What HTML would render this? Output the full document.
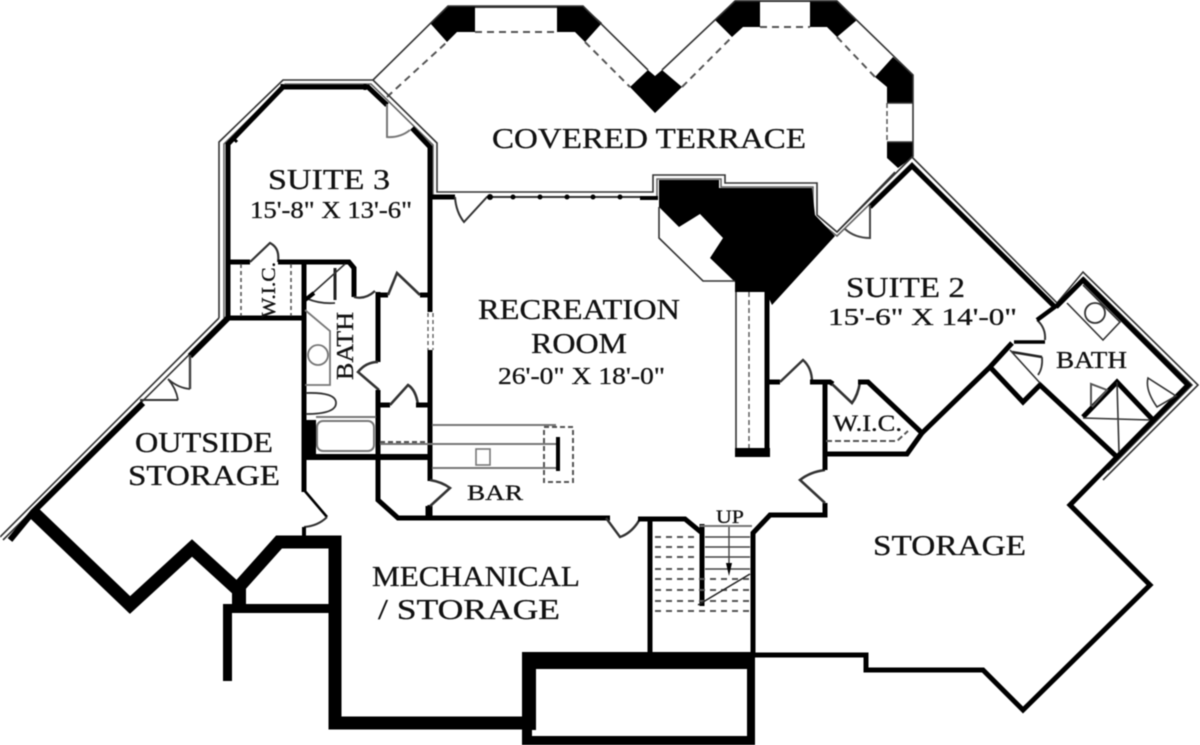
<!DOCTYPE html>
<html>
<head>
<meta charset="utf-8">
<style>
html,body{margin:0;padding:0;background:#fff;width:1200px;height:745px;overflow:hidden}
svg{display:block;filter:blur(.55px)}
text{font-family:"Liberation Serif",serif;fill:#111;stroke:#111;stroke-width:.3}
.w,.t,.g,.d{fill:none}
.w:not([stroke]){stroke:#000}
.w:not([stroke-width]){stroke-width:5}
.t:not([stroke]){stroke:#333}
.t:not([stroke-width]){stroke-width:1.6}
.g:not([stroke]){stroke:#777}
.g:not([stroke-width]){stroke-width:2}
.d:not([stroke]){stroke:#555}
.d:not([stroke-width]){stroke-width:2}
.d:not([stroke-dasharray]){stroke-dasharray:7 5}
.k{fill:#000;stroke:none}
</style>
</head>
<body>
<svg width="1200" height="745" viewBox="0 0 1200 745" xmlns="http://www.w3.org/2000/svg">
<rect width="1200" height="745" fill="#fff"/>

<!-- terrace black piers -->
<path class="k" d="M448,6H475V32H457L447,42L430,23Z"/>
<path class="k" d="M557,6H583L602,23L585,42L575,32H557Z"/>
<path class="k" d="M630,87L648,70L655,76L662,70L682,87L655,113Z"/>
<path class="k" d="M715,20L735,0H760V27H743L732,37Z"/>
<path class="k" d="M810,0H837L857,20L837,37L827,27H810Z"/>
<path class="k" d="M893,57L913,75V103H887V87L875,77Z"/>
<path class="k" d="M887,142H913V157L898,168L887,158Z"/>
<!-- terrace outer lines -->
<path class="t" d="M373,80L448,6H583L648,70M662,70L735,1H837L913,75V157"/>
<path class="t" d="M475,7H557M760,1H810" stroke-width="2"/>
<path class="d" d="M387,97L447,42M475,32H557M585,42L630,87M682,87L732,37M760,27H810M837,37L875,77"/>
<path class="d" d="M887,103V142" stroke-width="1.5" stroke-dasharray="5 3"/>
<path class="t" d="M887,103H913M887,142H913"/>

<!-- double exterior line -->
<path class="t" d="M219,318V142L283,80H373L437,143V192H653V175H725V183H817V215L837,232L912,157L1057,303L1083,272L1198,385L1103,480"/>
<path class="t" stroke="#666" d="M224,318V144L285,84H371L433,145V196M657,196V179H721V187H813V217L837,236L912,163L1055,308"/>
<path class="t" d="M219,318L0,537M223,321L3,540"/>
<path class="t" d="M1083,277L1192,385L1108,470"/>

<!-- suite 3 walls -->
<path class="w" d="M228,318V144L283,87H368L387,105"/>
<path class="w" d="M412,128L430,147V518"/>
<path class="g" d="M387,104V137Q400,138 410,130"/>
<path class="w" d="M430,197H455"/>
<path class="t" d="M455,197Q456,212 464,222L487,197H655" stroke-width="2"/>
<g class="k"><circle cx="490" cy="197" r="3"/><circle cx="513" cy="197" r="2.5"/><circle cx="540" cy="197" r="2.5"/><circle cx="567" cy="197" r="2.5"/><circle cx="593" cy="197" r="2.5"/><circle cx="620" cy="197" r="2.5"/></g>
<path d="M640,198H658" stroke="#000" stroke-width="4"/>
<path d="M282,84v6M365,84v6M232,137l5,5" stroke="#000" stroke-width="3"/>

<!-- WIC + suite3 bath -->
<path class="w" d="M228,262H250"/>
<path class="t" d="M250,262L270,243Q280,248 278,262" stroke-width="2.2"/>
<path class="w" d="M278,262H349L354,268V297"/>
<path class="t" d="M354,297Q365,300 375,291" stroke-width="2.2"/>
<path class="w" d="M228,318H304"/>
<path class="w" d="M304,264V492"/>
<path class="d" d="M241,264V316M291,264V316" stroke-dasharray="4 3" stroke-width="1.6"/>
<path class="w" d="M335,268V300" stroke-width="3" stroke="#222"/>
<path class="t" d="M305,300L345,264"/>
<path class="t" d="M308,299Q320,304 335,303" stroke-width="1.8"/>
<path class="w" d="M305,300L314,293" stroke-width="4"/>
<path class="w" d="M378,292V362"/>
<path class="w" d="M378,295H388"/>
<path class="t" d="M388,295L397,273L420,295" stroke-width="2.6"/>
<path class="w" d="M420,295H430"/>
<path class="t" d="M378,362Q366,362 358,372L379,390" stroke-width="2.6"/>
<path class="w" d="M378,390V500L398,518H610"/>
<path class="w" d="M378,405H390"/>
<path class="t" d="M390,405L408,385Q416,390 418,405" stroke-width="2.6"/>
<path class="w" d="M416,405H430"/>
<path class="w" d="M304,457H430" stroke-width="6"/>
<rect class="k" x="305" y="420" width="11" height="38"/>
<path class="g" d="M305,310L330,331V385H305" stroke-width="1.8"/>
<circle class="g" cx="318" cy="355" r="10" stroke-width="1.8"/>
<path class="t" d="M306,393Q336,392 336,403Q336,414 306,414" stroke-width="1.8"/>
<rect class="g" x="317" y="421" width="57" height="30" rx="6" stroke-width="2"/>
<path class="g" d="M316,417H376"/>

<!-- dashed gap in rec room wall -->
<rect x="427" y="312" width="7" height="38" fill="#fff"/>
<path class="d" d="M428,313V350M433,313V350" stroke-dasharray="4 3" stroke-width="1.3"/>

<!-- bar -->
<path class="g" d="M432,425H556M380,444H556M432,468H556"/>
<path class="d" d="M380,442H428" stroke-dasharray="5 3"/>
<path class="d" d="M544,427H573V482H544Z" stroke-dasharray="5 3"/>
<rect class="k" x="556" y="437" width="4" height="34"/>
<rect class="g" x="476" y="449" width="14" height="16" stroke-width="1.6"/>

<!-- door into bar -->
<rect x="427" y="481" width="7" height="24" fill="#fff"/>
<path class="t" d="M430,480Q442,482 450,488L428,508" stroke-width="2.6"/>
<path class="w" d="M428,506V520"/>

<!-- bottom door and stair walls -->
<path class="t" d="M606,518L620,537Q632,533 640,519" stroke-width="2.4"/>
<path class="w" d="M638,519H685L702,533"/>
<path class="w" d="M650,519V655"/>
<path class="w" d="M702,524V606"/>
<path class="w" d="M753,655V533L770,515H825V503"/>
<path class="t" d="M825,503L800,480Q810,472 825,470" stroke-width="2.6"/>
<path class="w" d="M825,470V380"/>
<path class="t" d="M700,526H752" stroke="#777" stroke-width="2"/>
<path d="M705,537H750M705,547H750M705,557H750M705,569H750" stroke="#444" stroke-width="1.6"/>
<path class="d" d="M655,537H698M655,547H698M655,557H698M655,569H698M655,579H750M655,590H750M655,601H750M655,611H750" stroke-dasharray="6 5"/>
<path d="M698,605L750,574" stroke="#222" stroke-width="1.6"/>
<path d="M729,527V572" stroke="#444" stroke-width="1.4"/>
<path class="k" d="M726,563H732L729,576Z"/>

<!-- black mass -->
<path class="k" d="M659,180H719V188H812L815,215L835,236L772,305L766,292H735V282L710,258L723,238L700,214L679,227L659,207Z"/>
<path class="t" d="M659,207V238L703,281H735"/>
<rect x="735" y="292" width="33" height="160" fill="#fff"/>
<path class="t" d="M736,292V450"/>
<path class="d" d="M749,292V448" stroke-width="1.4" stroke-dasharray="5 3"/>
<path class="w" d="M767,292V450"/>
<rect class="k" x="735" y="448" width="35" height="9"/>
<path class="w" d="M767,382H780"/>
<path class="t" d="M780,382L803,360Q812,368 812,382" stroke-width="2.4"/>
<path class="w" d="M810,382H830L833,384"/>
<path class="t" d="M832,384L852,403Q858,395 860,382" stroke-width="2.6"/>
<path class="w" d="M858,382H868L922,433L907,454H825"/>
<path class="g" d="M826,441H897L908,431" stroke-dasharray="6 3" stroke="#555"/>

<!-- suite 2 walls -->
<path class="w" d="M870,207L912,166L1056,308"/>
<path class="t" d="M837,232L895,172"/>
<path class="g" d="M870,205V238Q855,238 845,229" stroke="#444"/>
<path class="w" d="M1012,343L990,367L922,433"/>
<path class="w" d="M1014,342H1045" stroke-width="3.5"/>
<path class="t" d="M1045,340Q1046,328 1037,320" stroke-width="2"/>
<path class="w" d="M1037,320L1056,306" stroke-width="4.5"/>
<path class="w" d="M1012,352L1042,357" stroke-width="2.6" stroke="#222"/>
<path class="t" d="M1042,357Q1043,368 1038,375" stroke-width="1.8"/>
<path class="w" d="M990,367L1023,402L1040,385L1117,457"/>
<path class="t" d="M1010,350L1040,383"/>

<!-- bath 2 -->
<path class="w" d="M1056,307L1083,280L1188,385L1117,457L1070,505L1150,585L1023,710L983,670H866V655H755"/>
<path class="t" d="M1067,303L1103,340L1120,322L1083,285"/>
<circle class="t" cx="1095" cy="313" r="10" stroke-width="1.8"/>
<path class="w" d="M1083,417L1117,382L1153,420"/>
<path class="t" d="M1083,418L1150,420M1117,382L1119,452"/>
<path class="g" d="M1091,406V384L1107,390L1092,407" stroke="#555"/>
<path class="t" d="M1148,378L1176,396L1157,407Q1145,390 1148,378Z" stroke-width="1.6"/>

<!-- outside storage walls -->
<path class="w" d="M228,318L190,356" stroke-width="6"/>
<path class="g" d="M190,355V389" stroke="#444" stroke-width="2.4"/>
<path class="t" d="M190,389Q178,388 168,379Q176,388 178,400" stroke-width="1.8"/>
<path class="t" d="M140,400H178" stroke-width="2"/>
<path class="w" d="M143,403L33,512L10,540" stroke-width="6"/>
<path class="w" d="M304,490L327,517" stroke-width="2.6"/>
<path class="t" d="M327,517Q318,526 304,527" stroke-width="2"/>
<path class="w" d="M304,527V537" stroke-width="4"/>

<!-- thick foundation -->
<path class="w" d="M33,512L130,605L192,548L237,589L279,542H335V723H530" stroke-width="13"/>
<rect class="k" x="232" y="583" width="14" height="26"/>
<rect class="k" x="225" y="604" width="105" height="9"/>
<rect class="k" x="223" y="604" width="9" height="77"/>
<path class="k" d="M522,652H755V745H522ZM536,669V730H532V736H747V669Z" fill-rule="evenodd"/>

<!-- labels -->
<text x="492" y="148" font-size="29" textLength="314" lengthAdjust="spacingAndGlyphs">COVERED TERRACE</text>
<text x="268" y="189" font-size="29" textLength="122" lengthAdjust="spacingAndGlyphs">SUITE 3</text>
<text x="250" y="218" font-size="24" textLength="162" lengthAdjust="spacingAndGlyphs">15'-8" X 13'-6"</text>
<text x="478" y="319" font-size="29" textLength="202" lengthAdjust="spacingAndGlyphs">RECREATION</text>
<text x="531" y="353" font-size="29" textLength="96" lengthAdjust="spacingAndGlyphs">ROOM</text>
<text x="498" y="384" font-size="24" textLength="167" lengthAdjust="spacingAndGlyphs">26'-0" X 18'-0"</text>
<text x="846" y="297" font-size="29" textLength="119" lengthAdjust="spacingAndGlyphs">SUITE 2</text>
<text x="828" y="325" font-size="24" textLength="189" lengthAdjust="spacingAndGlyphs">15'-6" X 14'-0"</text>
<text x="1056" y="368" font-size="24" textLength="71" lengthAdjust="spacingAndGlyphs">BATH</text>
<text x="833" y="431" font-size="23" textLength="69" lengthAdjust="spacingAndGlyphs">W.I.C.</text>
<text x="467" y="500" font-size="22" textLength="56" lengthAdjust="spacingAndGlyphs">BAR</text>
<text x="135" y="452" font-size="28" textLength="138" lengthAdjust="spacingAndGlyphs">OUTSIDE</text>
<text x="128" y="485" font-size="28" textLength="152" lengthAdjust="spacingAndGlyphs">STORAGE</text>
<text x="372" y="586" font-size="29" textLength="208" lengthAdjust="spacingAndGlyphs">MECHANICAL</text>
<text x="378" y="619" font-size="29" textLength="182" lengthAdjust="spacingAndGlyphs">/ STORAGE</text>
<text x="873" y="555" font-size="29" textLength="153" lengthAdjust="spacingAndGlyphs">STORAGE</text>
<text x="716" y="523" font-size="19" textLength="28" lengthAdjust="spacingAndGlyphs">UP</text>
<text transform="translate(353,380) rotate(-90)" font-size="24" textLength="68" lengthAdjust="spacingAndGlyphs">BATH</text>
<text transform="translate(275,318) rotate(-90)" font-size="20" textLength="56" lengthAdjust="spacingAndGlyphs">W.I.C.</text>
</svg>
</body>
</html>
